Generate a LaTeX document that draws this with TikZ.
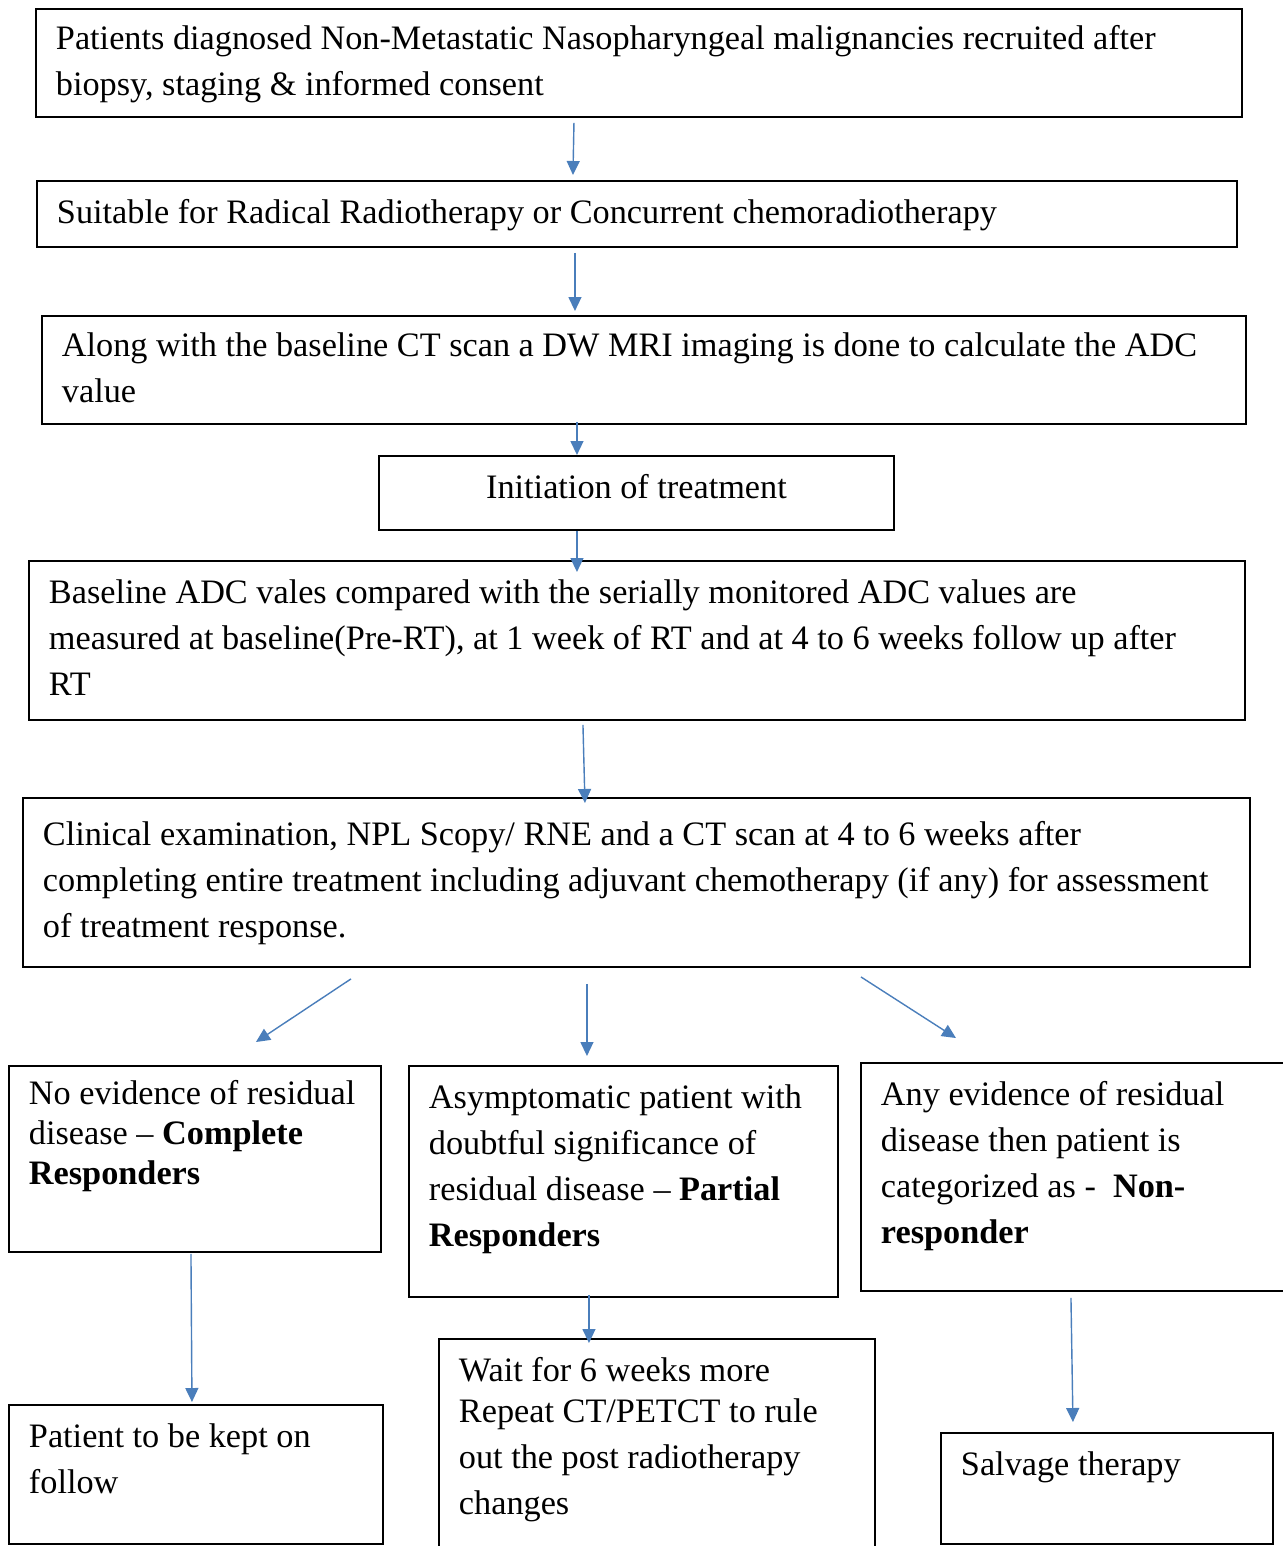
\documentclass[tikz,border=0pt]{standalone}
\usepackage{fontspec}
\setmainfont{Liberation Serif}
\usepackage{tikz}
\usetikzlibrary{positioning, calc, arrows.meta}
\definecolor{arrowblue}{RGB}{74,126,187}
\newlength\px
\setlength\px{0.02cm}
% text block of a box: [t] top, [c] centred; width and height in px
\newcommand{\boxtxt}[4][c]{\parbox[c][#3\px][#1]{#2\px}{\raggedright\strut #4\strut}}

\begin{document}
\begin{tikzpicture}[x=0.02cm, y=-0.02cm,
	font=\fontsize{19.5pt}{26.2pt}\selectfont,
	box/.style={draw=black, line width=1.1pt, anchor=north west, inner xsep=0.4cm, inner ysep=0.2cm},
	flow/.style={-{Triangle[length=0.28cm, width=0.26cm]}, arrowblue, line width=0.8pt}]
			\useasboundingbox (0,0) rectangle (1283,1546);
			
			\node[box](consent) at (35,8) {\boxtxt{1166}{88}{Patients diagnosed Non-Metastatic Nasopharyngeal malignancies recruited after\\ biopsy, staging \& informed consent}};
			\node[box](suitable) at (36,180) {\boxtxt{1160}{46}{Suitable for Radical Radiotherapy or Concurrent chemoradiotherapy}};
			\node[box](mri) at (41,315) {\boxtxt{1164}{88}{Along with the baseline CT scan a DW MRI imaging is done to calculate the ADC\\ value}};
			\node[box](init) at (378,455) {\parbox[c][54\px][t]{475\px}{\centering\strut Initiation of treatment}};
			\node[box](adc) at (28,560) {\boxtxt{1176}{139}{Baseline ADC vales compared with the serially monitored ADC values are\\ measured at baseline(Pre-RT), at 1 week of RT and at 4 to 6 weeks follow up after\\ RT}};
			\node[box](clinical) at (22,797) {\boxtxt{1187}{149}{Clinical examination, NPL Scopy/ RNE and a CT scan at 4 to 6 weeks after\\ completing entire treatment including adjuvant chemotherapy (if any) for assessment\\ of treatment response.}};
			
			% three outcomes
			\node[box, font=\fontsize{19.5pt}{22.8pt}\selectfont](complete) at (8,1065) {\boxtxt[t]{332}{166}{No evidence of residual\\ disease – \textbf{Complete}\\ \textbf{Responders}}};
			\node[box](partial) at (408,1065) {\boxtxt[t]{389}{211}{Asymptomatic patient with\\ doubtful significance of\\ residual disease – \textbf{Partial}\\ \textbf{Responders}}};
			\node[box](nonresp) at (860,1062) {\boxtxt[t]{400}{208}{Any evidence of residual\\ disease then patient is\\ categorized as -\ \ \textbf{Non-}\\ \textbf{responder}}};
			
			\node[box](follow) at (8,1404) {\boxtxt[t]{334}{119}{Patient to be kept on\\ follow}};
			\node[box](wait) at (438,1338) {\boxtxt[t]{396}{210}{Wait for 6 weeks more\\[-2.8pt] Repeat CT/PETCT to rule\\ out the post radiotherapy\\ changes}};
			\node[box](salvage) at (940,1432) {\boxtxt[t]{292}{91}{Salvage therapy}};
			
			\draw[flow] ($ (consent.south)+(-65,5) $) -- ($ (suitable.north)+(-64,-5) $);
			\draw[flow] ($ (suitable.south)+(-62,5) $) -- ($ (mri.north)+(-69,-4) $);
			\draw[flow] ($ (mri.south)+(-67,-3) $) -- ($ (init.north)+(-59.5,0) $);
			\draw[flow] ($ (init.south)+(-59.5,0) $) -- ($ (adc.north)+(-60,12) $);
			\draw[flow] ($ (adc.south)+(-54,4) $) -- ($ (clinical.north)+(-51.5,6) $);
			
			\draw[flow] ($ (clinical.south)+(-285.5,11) $) -- ($ (complete.north)+(61,-23) $);
			\draw[flow] ($ (clinical.south)+(-49.5,16) $) -- ($ (partial.north)+(-36.5,-9) $);
			\draw[flow] ($ (clinical.south)+(224.5,9) $) -- ($ (nonresp.north)+(-125,-24) $);
			
			\draw[flow] ($ (complete.south)+(-4,1) $) -- ($ (follow.north)+(-4,-2) $);
			\draw[flow] ($ (partial.south)+(-34.5,-3) $) -- ($ (wait.north)+(-68,5) $);
			\draw[flow] ($ (nonresp.south)+(-10,6) $) -- ($ (salvage.north)+(-34,-10) $);
		\end{tikzpicture}
\end{document}
